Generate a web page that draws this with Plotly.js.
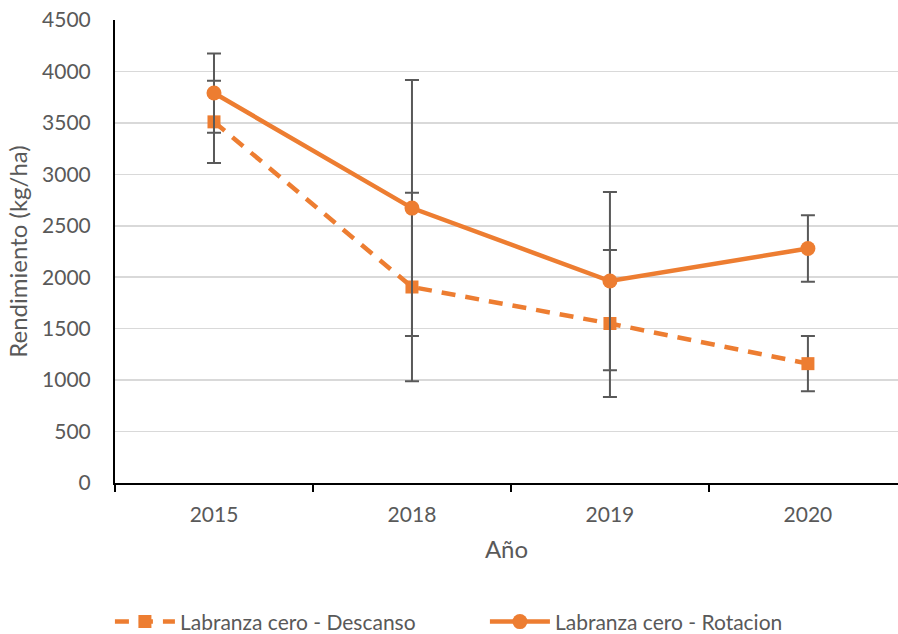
<!DOCTYPE html>
<html>
<head>
<meta charset="utf-8">
<script src="https://cdn.plot.ly/plotly-3.0.1.min.js"></script>
<style>html,body{margin:0;padding:0;background:#fff;}#chart{width:898px;height:634px;}</style>
</head>
<body>
<div id="chart"></div>
<script>
const years = ["2015", "2018", "2019", "2020"];
const descanso = [3510, 1905, 1550, 1160];
const descansoErr = [400, 917, 714, 268];
const rotacion = [3790, 2672, 1963, 2279];
const rotacionErr = [385, 1244, 866, 323];
const yTicks = [0, 500, 1000, 1500, 2000, 2500, 3000, 3500, 4000, 4500];

const orange = "#ED7D31";
const grey = "#595959";
const font = "Lato, 'Open Sans', sans-serif";

const traces = [
  {
    type: "scatter", mode: "lines+markers", name: "Labranza cero - Descanso",
    x: years, y: descanso,
    line: {color: orange, width: 4.5, dash: "14px,10px"},
    marker: {symbol: "square", size: 13, color: orange},
    error_y: {type: "data", array: descansoErr, visible: true, color: grey, thickness: 2, width: 7}
  },
  {
    type: "scatter", mode: "lines+markers", name: "Labranza cero - Rotacion",
    x: years, y: rotacion,
    line: {color: orange, width: 4.5},
    marker: {symbol: "circle", size: 15, color: orange},
    error_y: {type: "data", array: rotacionErr, visible: true, color: grey, thickness: 2, width: 7}
  }
];

const layout = {
  width: 898, height: 634,
  margin: {l: 115, r: 0, t: 20, b: 151, autoexpand: false},
  paper_bgcolor: "#fff", plot_bgcolor: "#fff",
  font: {family: font, size: 21, color: grey},
  showlegend: true,
  legend: {orientation: "h", x: 0.54, xref: "container", xanchor: "center",
           y: 0.019, yref: "container", yanchor: "middle",
           font: {family: font, size: 21, color: grey}, traceorder: "normal",
           itemwidth: 60, entrywidth: 300},
  xaxis: {
    type: "category", range: [-0.5, 3.455],
    showline: true, linecolor: "#000", linewidth: 2,
    ticks: "outside", tickson: "boundaries", ticklen: 7, tickwidth: 2, tickcolor: "#000",
    showgrid: false, zeroline: false, automargin: false,
    tickfont: {family: font, size: 21, color: grey}, ticklabelstandoff: 12,
    title: {text: "Año", font: {family: font, size: 24, color: grey}, standoff: 16}
  },
  yaxis: {
    range: [0, 4500], tickvals: yTicks, ticktext: yTicks.map(String),
    showline: true, linecolor: "#000", linewidth: 2, automargin: false,
    ticks: "", showgrid: true, gridcolor: "#d9d9d9", gridwidth: 1.5, zeroline: false,
    tickfont: {family: font, size: 21, color: grey}, ticklabelstandoff: 18,
    title: {text: "Rendimiento (kg/ha)", font: {family: font, size: 24, color: grey}, standoff: 8}
  }
};

Plotly.newPlot("chart", traces, layout, {displayModeBar: false, staticPlot: true});
</script>
</body>
</html>
